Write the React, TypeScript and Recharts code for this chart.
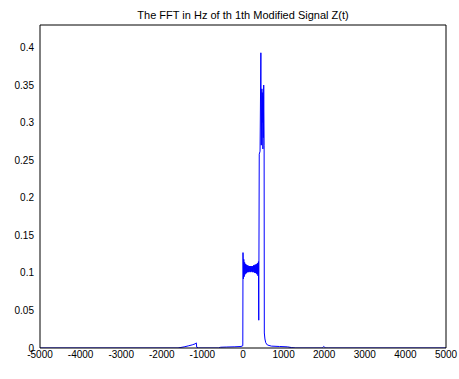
import React from 'react';
import { LineChart, Line, XAxis, YAxis } from 'recharts';

const chartTitle = 'The FFT in Hz of th 1th Modified Signal Z(t)';
const xTicks = [-5000, -4000, -3000, -2000, -1000, 0, 1000, 2000, 3000, 4000, 5000];
const yTicks = [0, 0.05, 0.1, 0.15, 0.2, 0.25, 0.3, 0.35, 0.4];
const yTickLabels = ['0', '0.05', '0.1', '0.15', '0.2', '0.25', '0.3', '0.35', '0.4'];

const freqHz = [
  -5000, -1600, -1550, -1450, -1350, -1250, -1180, -1150, -1140, -1100,
  -600, -550, -400, -200, -50, -5,
  0, 10, 20, 30, 40, 50, 60, 70, 80, 90,
  100, 110, 120, 130, 140, 150, 160, 170, 180, 190,
  200, 210, 220, 230, 240, 250, 260, 270, 280, 290,
  300, 310, 320, 330, 340, 350, 360, 370, 380,
  388, 400, 420, 440, 450, 465, 470, 475, 480, 485,
  490, 495, 500, 510, 520, 525, 540, 560, 600, 700,
  900, 1100, 1200, 1300, 1950, 1990, 2010, 2040, 2100, 5000,
];

const magnitude = [
  0, 0, 0.0005, 0.0015, 0.0028, 0.0042, 0.0055, 0.0068, 0.001, 0,
  0, 0.001, 0.0013, 0.0016, 0.002, 0.003,
  0.127, 0.092, 0.118, 0.095, 0.114, 0.098, 0.112, 0.099, 0.111, 0.1,
  0.11, 0.101, 0.11, 0.101, 0.109, 0.101, 0.109, 0.102, 0.109, 0.101,
  0.109, 0.102, 0.109, 0.101, 0.109, 0.101, 0.11, 0.101, 0.11, 0.1,
  0.111, 0.1, 0.111, 0.099, 0.112, 0.098, 0.113, 0.096, 0.115,
  0.037, 0.258, 0.262, 0.393, 0.27, 0.345, 0.3, 0.34, 0.31, 0.33,
  0.265, 0.335, 0.28, 0.35, 0.27, 0.02, 0.012, 0.007, 0.004, 0.0025,
  0.002, 0.0015, 0.0005, 0, 0, 0.002, 0.001, 0, 0, 0,
];

const data = freqHz.map((f, i) => ({ f, m: magnitude[i] }));

const axisColor = '#000';
const tickFont = { fontSize: 10, fill: '#000', fontFamily: 'Arial, "Liberation Sans", sans-serif' };

export default function App() {
  return (
    <div style={{ position: 'absolute', left: 0, top: 0, width: 459, height: 379, background: '#fff' }}>
      <div
        style={{
          position: 'absolute',
          left: 40,
          width: 406,
          top: 10,
          textAlign: 'center',
          fontSize: 11,
          lineHeight: '11px',
          fontFamily: 'Arial, "Liberation Sans", sans-serif',
          color: '#000',
        }}
      >
        {chartTitle}
      </div>
      <LineChart width={459} height={379} data={data} margin={{ top: 25, right: 13, left: 0, bottom: 11 }}>
        <XAxis
          xAxisId="b"
          dataKey="f"
          type="number"
          domain={[-5000, 5000]}
          ticks={xTicks}
          height={20}
          tickSize={0}
          tickMargin={3}
          tickLine={false}
          axisLine={{ stroke: axisColor }}
          tick={tickFont}
          interval={0}
          allowDataOverflow
        />
        <XAxis
          xAxisId="bt"
          dataKey="f"
          type="number"
          domain={[-5000, 5000]}
          ticks={xTicks}
          mirror
          tick={false}
          tickSize={4}
          tickLine={{ stroke: axisColor }}
          axisLine={false}
          interval={0}
        />
        <XAxis
          xAxisId="t"
          dataKey="f"
          type="number"
          orientation="top"
          domain={[-5000, 5000]}
          ticks={xTicks}
          mirror
          tick={false}
          tickSize={4}
          tickLine={{ stroke: axisColor }}
          axisLine={{ stroke: axisColor }}
          interval={0}
        />
        <YAxis
          yAxisId="l"
          type="number"
          domain={[0, 0.43]}
          ticks={yTicks}
          width={40}
          tickSize={0}
          tickMargin={6}
          tickLine={false}
          axisLine={{ stroke: axisColor }}
          tick={tickFont}
          tickFormatter={(v: number) => yTickLabels[yTicks.indexOf(v)] ?? String(v)}
          interval={0}
          allowDataOverflow
        />
        <YAxis
          yAxisId="lt"
          type="number"
          domain={[0, 0.43]}
          ticks={yTicks}
          mirror
          tick={false}
          tickSize={4}
          tickLine={{ stroke: axisColor }}
          axisLine={false}
          interval={0}
        />
        <YAxis
          yAxisId="r"
          type="number"
          orientation="right"
          domain={[0, 0.43]}
          ticks={yTicks}
          mirror
          tick={false}
          tickSize={4}
          tickLine={{ stroke: axisColor }}
          axisLine={{ stroke: axisColor }}
          interval={0}
        />
        <Line
          xAxisId="b"
          yAxisId="l"
          type="linear"
          dataKey="m"
          stroke="#0000ff"
          strokeWidth={1}
          dot={false}
          isAnimationActive={false}
        />
      </LineChart>
    </div>
  );
}
